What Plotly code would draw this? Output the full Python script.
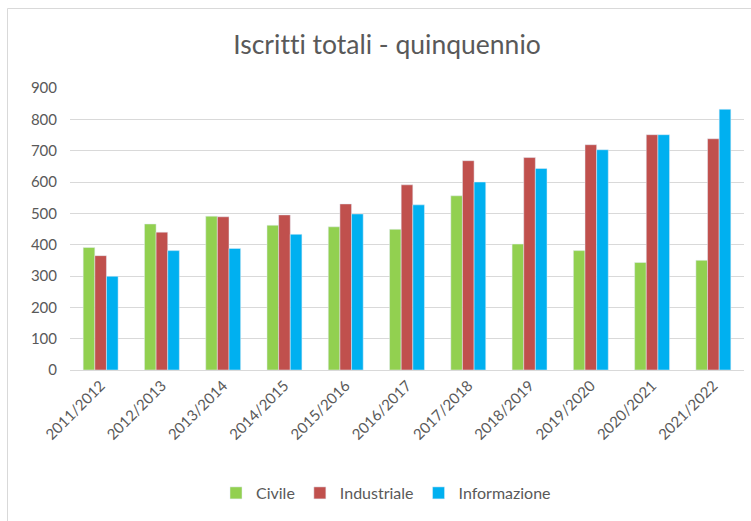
import plotly.graph_objects as go

categories = ["2011/2012", "2012/2013", "2013/2014", "2014/2015", "2015/2016", "2016/2017",
              "2017/2018", "2018/2019", "2019/2020", "2020/2021", "2021/2022"]
civile = [391, 466, 491, 462, 457, 449, 556, 402, 381, 343, 350]
industriale = [365, 440, 489, 495, 530, 591, 668, 678, 719, 751, 738]
informazione = [299, 381, 388, 433, 498, 527, 600, 643, 703, 751, 832]
y_ticks = [0, 100, 200, 300, 400, 500, 600, 700, 800, 900]

FONT = "Lato"
GRAY = "#595959"

fig = go.Figure()
fig.add_trace(go.Bar(name="Civile", x=categories, y=civile, marker_color="#92D050"))
fig.add_trace(go.Bar(name="Industriale", x=categories, y=industriale, marker_color="#C0504D"))
fig.add_trace(go.Bar(name="Informazione", x=categories, y=informazione, marker_color="#00B0F0"))

W, H = 751, 521
L, R, T, B = 70, 7, 88, 151
pw, ph = W - L - R, H - T - B

def px_x(x):
    return (x - L) / pw

def px_y(y):
    return (H - B - y) / ph

fig.update_layout(
    width=W, height=H,
    margin=dict(l=L, r=R, t=T, b=B, pad=0, autoexpand=False),
    paper_bgcolor="white", plot_bgcolor="white",
    barmode="group", bargap=0.43, bargroupgap=0,
    title=dict(text="Iscritti totali - quinquennio", x=px_x(387), xref="paper", xanchor="center",
               y=1 - 45 / H, yanchor="middle", yref="container",
               font=dict(family=FONT, size=26.5, color=GRAY)),
    font=dict(family=FONT, color=GRAY),
    xaxis=dict(tickangle=-45, tickfont=dict(size=15, color=GRAY), showgrid=False,
               showline=True, linecolor="#D9D9D9", linewidth=1, ticks=""),
    yaxis=dict(range=[0, 900], tickvals=y_ticks, tickfont=dict(size=15, color=GRAY),
               showgrid=True, gridcolor="#D9D9D9", gridwidth=1, zeroline=False,
               showline=False, ticks="", ticklabelstandoff=12),
    legend=dict(orientation="h", x=px_x(386), xanchor="center",
                y=px_y(493), yanchor="middle", font=dict(size=16, color=GRAY),
                itemwidth=30, traceorder="normal"),
    shapes=[dict(type="rect", xref="paper", yref="paper",
                 x0=px_x(7.5), x1=px_x(770), y0=px_y(540), y1=px_y(8.5),
                 line=dict(color="#D9D9D9", width=1), fillcolor="rgba(0,0,0,0)", layer="below")],
)

post = (
    "document.body.style.margin='0';"
    "var s=document.createElement('style');"
    "s.textContent='svg text{font-variant-ligatures:none !important;font-feature-settings:\"liga\" 0,\"clig\" 0 !important;}';"
    "document.head.appendChild(s);"
)
fig.write_html("out.html", post_script=post, config={"displayModeBar": False})
